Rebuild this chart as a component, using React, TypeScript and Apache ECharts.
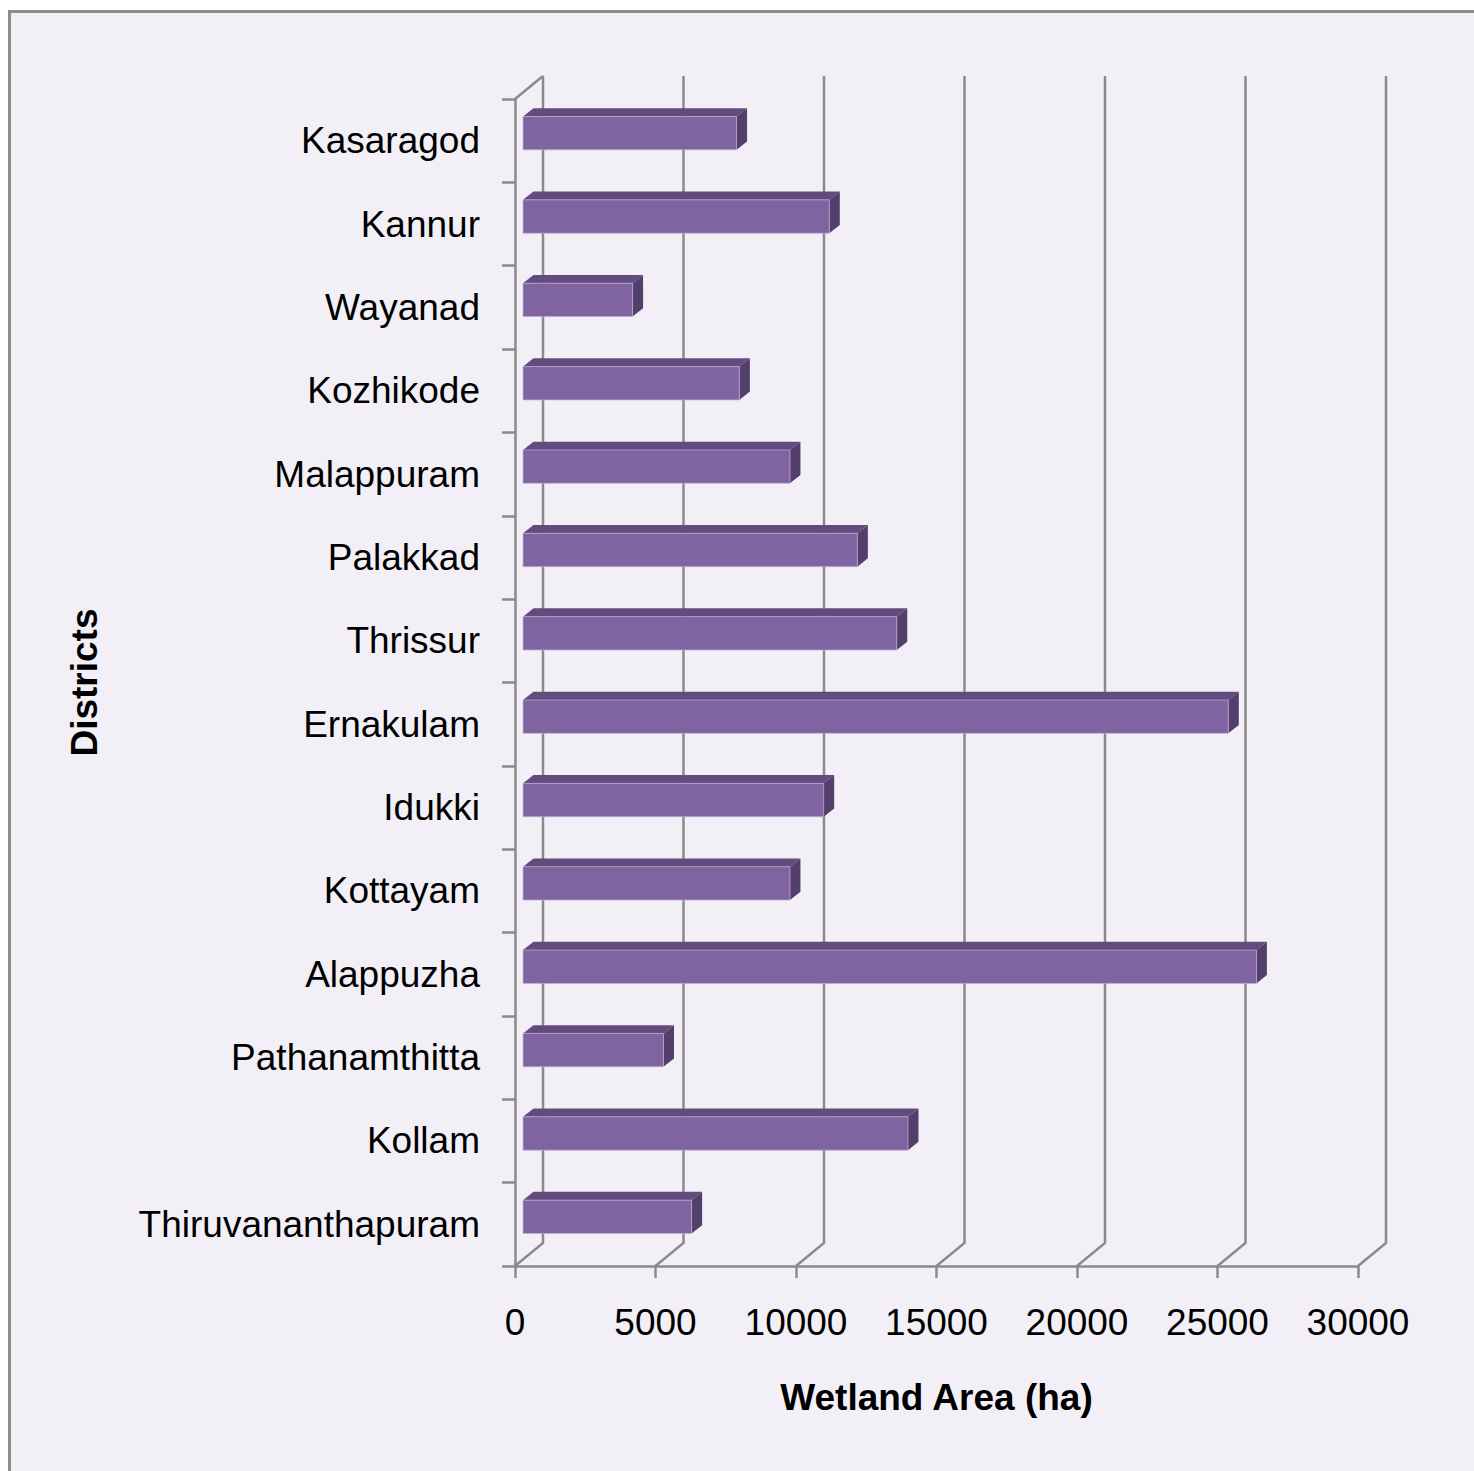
import React, { useEffect, useRef } from "react";
import * as echarts from "echarts";

const DISTRICTS = [
  "Kasaragod",
  "Kannur",
  "Wayanad",
  "Kozhikode",
  "Malappuram",
  "Palakkad",
  "Thrissur",
  "Ernakulam",
  "Idukki",
  "Kottayam",
  "Alappuzha",
  "Pathanamthitta",
  "Kollam",
  "Thiruvananthapuram",
];
const WETLAND_AREA = [7600, 10900, 3900, 7700, 9500, 11900, 13300, 25100, 10700, 9500, 26100, 5000, 13700, 6000];
const X_TICKS = [0, 5000, 10000, 15000, 20000, 25000, 30000];

const FONT = "'Liberation Sans', Arial, Helvetica, sans-serif";
const GRID_COLOR = "#8a8a8a";
const FRONT_COLOR = "#8064a2";
const TOP_COLOR = "#634b7e";
const SIDE_COLOR = "#533f6b";
const BG_COLOR = "#f2f0f6";

// wall depth (back wall offset from front plane)
const WALL_DX = 28;
const WALL_DY = -23;
// bar front-face offset and bar depth
const FACE_DX = 8;
const FACE_DY = -7.5;
const BAR_DX = 10.5;
const BAR_DY = -8.3;

export default function App() {
  const ref = useRef<HTMLDivElement>(null);

  useEffect(() => {
    if (!ref.current) return;
    const chart = echarts.init(ref.current, undefined, { renderer: "svg" });

    const lineStyle = { stroke: GRID_COLOR, lineWidth: 2.5, fill: "none" };

    const option: any = {
      animation: false,
      backgroundColor: "#ffffff",
      textStyle: { fontFamily: FONT },
      graphic: [
        {
          type: "rect",
          z: -10,
          silent: true,
          shape: { x: 9.5, y: 11.5, width: 1700, height: 1700 },
          style: { fill: BG_COLOR, stroke: "#8c8c8c", lineWidth: 3 },
        },
      ],
      grid: { left: 515, top: 99, width: 843, height: 1167, containLabel: false },
      xAxis: {
        type: "value",
        min: 0,
        max: 30000,
        interval: 5000,
        axisLine: { show: true, lineStyle: { color: GRID_COLOR, width: 2.5 } },
        axisTick: { show: true, length: 12, lineStyle: { color: GRID_COLOR, width: 2.5 } },
        axisLabel: {
          fontSize: 37,
          color: "#000",
          margin: 38,
          fontFamily: FONT,
          formatter: (v: number) => String(v),
        },
        splitLine: { show: false },
        name: "Wetland Area (ha)",
        nameLocation: "middle",
        nameGap: 113,
        nameTextStyle: { fontSize: 37, fontWeight: "bold", color: "#000", fontFamily: FONT },
      },
      yAxis: {
        type: "category",
        data: DISTRICTS,
        inverse: true,
        axisLine: { show: true, onZero: false, lineStyle: { color: GRID_COLOR, width: 2.5 } },
        axisTick: { show: true, length: 13, lineStyle: { color: GRID_COLOR, width: 2.5 } },
        axisLabel: {
          fontSize: 37,
          color: "#000",
          margin: 35,
          interval: 0,
          fontFamily: FONT,
          padding: [3, 0, 0, 0],
        },
        splitLine: { show: false },
        name: "Districts",
        nameLocation: "middle",
        nameRotate: 90,
        nameGap: 412,
        nameTextStyle: { fontSize: 37, fontWeight: "bold", color: "#000", fontFamily: FONT },
      },
      series: [
        {
          type: "custom",
          name: "wall",
          silent: true,
          clip: false,
          z: 1,
          data: X_TICKS.map((v) => [v, 0]),
          renderItem: (params: any, api: any) => {
            const cs = params.coordSys;
            const v = api.value(0);
            const x = api.coord([v, 0])[0];
            const top = cs.y;
            const bottom = cs.y + cs.height;
            const children: any[] = [
              {
                type: "polyline",
                shape: {
                  points: [
                    [x, bottom],
                    [x + WALL_DX, bottom + WALL_DY],
                    [x + WALL_DX, top + WALL_DY],
                  ],
                },
                style: lineStyle,
              },
            ];
            if (params.dataIndex === 0) {
              children.push({
                type: "polyline",
                shape: {
                  points: [
                    [x, top],
                    [x + WALL_DX, top + WALL_DY],
                  ],
                },
                style: lineStyle,
              });
            }
            return { type: "group", children };
          },
        },
        {
          type: "custom",
          name: "Wetland Area (ha)",
          clip: false,
          z: 3,
          data: WETLAND_AREA.map((v, i) => [v, i]),
          renderItem: (params: any, api: any) => {
            const v = api.value(0);
            const i = api.value(1);
            const p0 = api.coord([0, i]);
            const p1 = api.coord([v, i]);
            const band = api.size([0, 1])[1];
            const h = band * 0.4;
            const yc = p0[1] + FACE_DY;
            const x0 = p0[0] + FACE_DX;
            const x1 = p1[0] + FACE_DX;
            const yT = yc - h / 2;
            const yB = yc + h / 2;
            return {
              type: "group",
              children: [
                {
                  type: "polygon",
                  shape: {
                    points: [
                      [x0, yT],
                      [x0 + BAR_DX, yT + BAR_DY],
                      [x1 + BAR_DX, yT + BAR_DY],
                      [x1, yT],
                    ],
                  },
                  style: { fill: TOP_COLOR },
                },
                {
                  type: "polygon",
                  shape: {
                    points: [
                      [x1, yT],
                      [x1 + BAR_DX, yT + BAR_DY],
                      [x1 + BAR_DX, yB + BAR_DY],
                      [x1, yB],
                    ],
                  },
                  style: { fill: SIDE_COLOR },
                },
                {
                  type: "rect",
                  shape: { x: x0, y: yT, width: x1 - x0, height: h },
                  style: { fill: FRONT_COLOR, stroke: "rgba(190,175,215,0.7)", lineWidth: 1 },
                },
              ],
            };
          },
        },
      ],
    };

    chart.setOption(option);
    return () => {
      chart.dispose();
    };
  }, []);

  return (
    <div
      ref={ref}
      style={{ position: "absolute", left: 0, top: 0, width: 1474, height: 1471 }}
    />
  );
}
